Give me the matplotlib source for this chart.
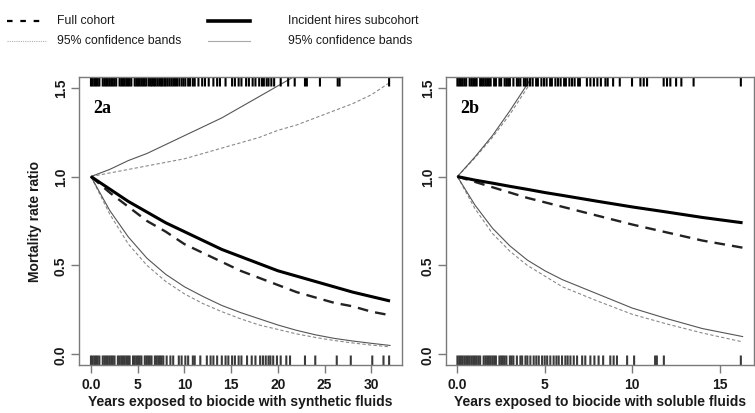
import matplotlib
matplotlib.use("Agg")
import matplotlib.pyplot as plt
from matplotlib.lines import Line2D

# ---- curve data ----
# 2a: years exposed to biocide with synthetic fluids
years_a = [0, 2, 4, 6, 8, 10, 12, 14, 16, 18, 20, 22, 24, 26, 28, 30, 32]
full_a = [1.00, 0.91, 0.83, 0.75, 0.69, 0.62, 0.57, 0.52, 0.47, 0.43, 0.39, 0.35, 0.32, 0.29, 0.27, 0.24, 0.22]
full_lo_a = [1.00, 0.79, 0.62, 0.50, 0.41, 0.34, 0.285, 0.24, 0.20, 0.165, 0.14, 0.115, 0.095, 0.078, 0.064, 0.052, 0.042]
full_hi_a = [1.00, 1.02, 1.04, 1.06, 1.08, 1.10, 1.13, 1.16, 1.19, 1.22, 1.26, 1.29, 1.33, 1.37, 1.41, 1.46, 1.53]
inc_a = [1.00, 0.93, 0.86, 0.80, 0.74, 0.69, 0.64, 0.59, 0.55, 0.51, 0.47, 0.44, 0.41, 0.38, 0.35, 0.325, 0.30]
inc_lo_a = [1.00, 0.81, 0.66, 0.54, 0.45, 0.38, 0.325, 0.275, 0.235, 0.20, 0.165, 0.135, 0.11, 0.09, 0.075, 0.062, 0.05]
inc_hi_years_a = [0, 2, 4, 6, 8, 10, 12, 14, 16, 18, 20, 22]
inc_hi_a = [1.00, 1.04, 1.09, 1.13, 1.18, 1.23, 1.28, 1.33, 1.39, 1.45, 1.51, 1.57]

# 2b: years exposed to biocide with soluble fluids
years_b = [0, 1, 2, 3, 4, 5, 6, 8, 10, 12, 14, 16.3]
full_b = [1.00, 0.97, 0.94, 0.91, 0.88, 0.855, 0.83, 0.78, 0.73, 0.685, 0.64, 0.60]
full_lo_b = [1.00, 0.82, 0.68, 0.58, 0.50, 0.44, 0.38, 0.30, 0.225, 0.17, 0.12, 0.07]
inc_b = [1.00, 0.98, 0.963, 0.945, 0.928, 0.91, 0.894, 0.861, 0.829, 0.80, 0.77, 0.74]
inc_lo_b = [1.00, 0.84, 0.71, 0.61, 0.53, 0.47, 0.42, 0.34, 0.26, 0.20, 0.145, 0.10]
hi_years_b = [0, 1, 2, 3, 4, 4.5]
full_hi_b = [1.00, 1.105, 1.22, 1.35, 1.50, 1.58]
inc_hi_b = [1.00, 1.11, 1.23, 1.37, 1.52, 1.60]

# ---- rug data (exposure years of individual workers) ----
rug_top_a = [0.0, 0.18, 0.36, 0.54, 0.72, 0.9, 1.26, 1.44, 1.62, 1.8, 1.98, 2.16, 2.34, 2.52, 2.7,
             3.06, 3.24, 3.42, 3.6, 3.78, 3.96, 4.14, 4.32, 4.68, 4.86, 5.04, 5.22, 5.4, 5.58, 5.76, 5.94,
             6.2, 6.4, 6.55, 6.75, 6.9, 7.1, 7.3, 7.5, 7.65, 7.85, 8.0, 8.2, 8.4, 8.6, 8.8, 9.0, 9.2,
             9.45, 9.7, 9.9, 10.1, 10.4, 10.6, 10.9, 11.1, 11.5, 11.9, 12.2, 12.6, 13.1, 13.5, 13.8,
             14.4, 15.1, 15.4, 15.8, 16.1, 16.6, 16.9, 17.3, 17.6, 18.0, 18.3, 18.5, 18.8, 19.0, 19.3,
             19.6, 20.3, 21.1, 21.8, 22.9, 23.1, 24.5, 26.4, 26.6, 31.9]
rug_bottom_a = [0.0, 0.18, 0.36, 0.54, 0.72, 0.9, 1.26, 1.44, 1.62, 1.8, 1.98, 2.16, 2.34, 2.52,
                2.88, 3.06, 3.24, 3.42, 3.6, 3.78, 3.96, 4.14, 4.5, 4.68, 4.86, 5.04, 5.22, 5.4,
                5.76, 5.94, 6.12, 6.3, 6.48, 6.84, 7.02, 7.2, 7.38, 7.56, 7.74,
                8.1, 8.5, 8.8, 9.4, 9.7, 10.1, 10.4, 10.9, 11.1, 11.7, 12.4, 12.8, 13.1, 13.5, 14.0,
                14.4, 14.7, 15.1, 15.4, 15.8, 16.1, 16.7, 17.2, 17.6, 18.1, 18.4, 18.7, 19.0, 19.2,
                19.5, 19.9, 20.3, 20.9, 21.3, 22.9, 24.0, 26.3, 27.8, 30.1, 31.3, 31.9]
rug_top_b = [0.0, 0.1, 0.2, 0.3, 0.4, 0.5, 0.7, 0.8, 0.9, 1.0, 1.1, 1.3, 1.4, 1.5, 1.6, 1.7, 1.8,
             1.9, 2.1, 2.2, 2.4, 2.5, 2.7, 2.8, 2.9, 3.0, 3.2, 3.4, 3.5, 3.6, 3.8, 3.9, 4.0,
             4.15, 4.3, 4.5, 4.6, 4.8, 4.95, 5.1, 5.3, 5.4, 5.6, 5.75, 5.9, 6.1, 6.2, 6.4, 6.55,
             6.7, 6.9, 7.0, 7.4, 7.6, 7.8, 8.0, 8.2, 8.46, 8.59, 8.9, 9.28, 9.98, 10.46, 10.65,
             10.84, 11.79, 11.98, 12.17, 12.5, 12.8, 13.5, 16.2]
rug_bottom_b = [0.0, 0.1, 0.2, 0.3, 0.4, 0.5, 0.6, 0.7, 0.8, 0.9, 1.0, 1.1, 1.2, 1.3, 1.5, 1.6, 1.7,
                1.8, 1.9, 2.0, 2.1, 2.2, 2.4, 2.5, 2.6, 2.7, 2.8, 3.0, 3.1, 3.2, 3.4, 3.6, 3.7,
                3.89, 4.0, 4.17, 4.36, 4.51, 4.65, 4.84, 4.99, 5.13, 5.31, 5.5, 5.66, 5.79, 5.98,
                6.17, 6.3, 6.46, 6.65, 6.84, 7.13, 7.31, 7.6, 7.83, 8.07, 8.33, 8.74, 8.93, 9.12,
                9.7, 10.1, 11.3, 11.4, 11.8, 16.2]

xticks_a = [0, 5, 10, 15, 20, 25, 30]
xticklabels_a = ["0.0", "5", "10", "15", "20", "25", "30"]
xticks_b = [0, 5, 10, 15]
xticklabels_b = ["0.0", "5", "10", "15"]
yticks = [0, 0.5, 1.0, 1.5]
yticklabels = ["0.0", "0.5", "1.0", "1.5"]

W, H = 755, 414
SANS = ["Liberation Sans", "DejaVu Sans"]
AXIS_GRAY = "#7a7a7a"

fig = plt.figure(figsize=(W / 100, H / 100), dpi=100)
fig.patch.set_facecolor("white")

ax_a = fig.add_axes([79 / W, 1 - 366 / H, (402 - 79) / W, (366 - 78) / H])
ax_b = fig.add_axes([446 / W, 1 - 366 / H, (754 - 446) / W, (366 - 78) / H])


def draw_panel(ax, years, full, full_lo, full_hi_x, full_hi, inc, inc_lo, inc_hi_x, inc_hi,
               rug_top, rug_bottom, xmax, xticks, xticklabels, tag, xlabel):
    # confidence bands
    ax.plot(years, full_lo, color="#8a8a8a", lw=0.8, ls=(0, (3, 2)))
    ax.plot(full_hi_x, full_hi, color="#8a8a8a", lw=0.8, ls=(0, (3, 2)))
    ax.plot(years, inc_lo, color="#555555", lw=0.8)
    ax.plot(inc_hi_x, inc_hi, color="#555555", lw=0.8)
    # point estimates
    ax.plot(years, full, color="#222222", lw=1.7, ls=(0, (4.5, 3)))
    ax.plot(years, inc, color="black", lw=2.2, solid_capstyle="butt")

    # rugs
    ax.vlines(rug_top, 0.967, 1.0, transform=ax.get_xaxis_transform(), color="black",
              lw=1.5, snap=False)
    ax.vlines(rug_bottom, 0.0, 0.033, transform=ax.get_xaxis_transform(), color="#3a3a3a",
              lw=1.5, snap=False)

    pad = xmax * 0.04
    ax.set_xlim(-pad, xmax + pad)
    ax.set_ylim(-0.06, 1.56)
    ax.set_xticks(xticks)
    ax.set_xticklabels(xticklabels, fontfamily=SANS, fontweight="bold", fontsize=10)
    ax.set_yticks(yticks)
    ax.set_yticklabels(yticklabels, fontfamily=SANS, fontweight="bold", fontsize=10,
                       rotation=90, va="center", ha="right")
    ax.tick_params(direction="out", length=6, width=1, color=AXIS_GRAY, labelcolor="#1a1a1a")
    ax.tick_params(axis="x", pad=3)
    ax.tick_params(axis="y", pad=2)
    for s in ax.spines.values():
        s.set_color(AXIS_GRAY)
        s.set_linewidth(1.0)
    ax.set_xlabel(xlabel, fontfamily=SANS, fontweight="bold", fontsize=10, color="#1a1a1a", labelpad=2)
    ax.text(0.045, 0.895, tag, transform=ax.transAxes, fontfamily=["Liberation Serif", "DejaVu Serif"],
            fontweight="bold", fontsize=13, va="center", ha="left")


draw_panel(ax_a, years_a, full_a, full_lo_a, years_a, full_hi_a, inc_a, inc_lo_a,
           inc_hi_years_a, inc_hi_a, rug_top_a, rug_bottom_a, 32, xticks_a, xticklabels_a,
           "2a", "Years exposed to biocide with synthetic fluids")
draw_panel(ax_b, years_b, full_b, full_lo_b, hi_years_b, full_hi_b, inc_b, inc_lo_b,
           hi_years_b, inc_hi_b, rug_top_b, rug_bottom_b, 16.3, xticks_b, xticklabels_b,
           "2b", "Years exposed to biocide with soluble fluids")

ax_a.set_ylabel("Mortality rate ratio", fontfamily=SANS, fontweight="bold", fontsize=10, color="#1a1a1a")
ax_a.yaxis.set_label_coords(-0.115, 0.5)


# ---- legend across the top (drawn in figure pixels) ----
def legend_entry(x0, x1, y, tx, label, **style):
    fig.add_artist(Line2D([x0 / W, x1 / W], [1 - y / H, 1 - y / H], **style))
    fig.text(tx / W, 1 - (y - 1) / H, label, fontfamily=SANS, fontsize=8.8, va="center", ha="left",
             color="#1a1a1a")


legend_entry(7, 47, 22, 57, "Full cohort", color="black", lw=1.6, ls=(0, (2.5, 3.5)))
legend_entry(7, 47, 42, 57, "95% confidence bands", color="#b0b0b0", lw=0.8, ls=(0, (1, 1)))
legend_entry(208, 250, 22, 288, "Incident hires subcohort", color="black", lw=2.6)
legend_entry(208, 250, 42, 288, "95% confidence bands", color="#a8a8a8", lw=0.8)

fig.savefig("out.png", dpi=100)
